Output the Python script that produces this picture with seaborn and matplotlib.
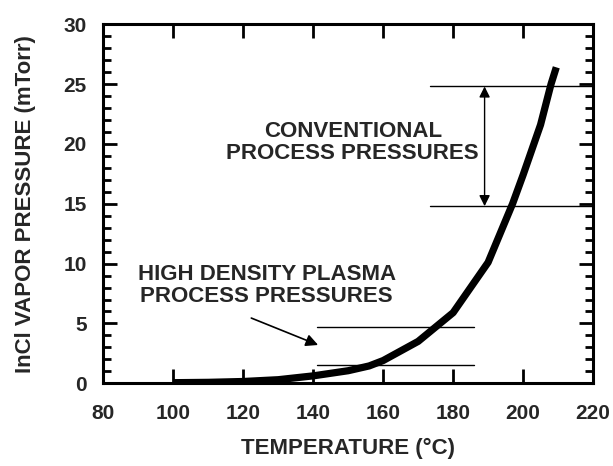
import numpy as np
import pandas as pd
import matplotlib
matplotlib.use('Agg')
import matplotlib.pyplot as plt
from matplotlib.ticker import MultipleLocator
import seaborn as sns

# data
temperature = [100, 110, 120, 130, 140, 150, 156, 160, 170, 180, 190, 197, 200, 205, 208, 209.5]
pressure    = [0.05, 0.08, 0.15, 0.3, 0.62, 1.05, 1.45, 1.9, 3.5, 5.9, 10.1, 15.0, 17.4, 21.6, 25.0, 26.4]

conv_levels = [24.8, 14.8]          # conventional process pressure band
conv_span   = [173.3, 220]
hdp_levels  = [4.7, 1.5]            # high density plasma band
hdp_span    = [141, 186]

x_ticks = [80, 100, 120, 140, 160, 180, 200, 220]
y_ticks = [0, 5, 10, 15, 20, 25, 30]

df = pd.DataFrame({'T': temperature, 'P': pressure})

sns.set_style('ticks')
plt.rcParams['font.family'] = ['Liberation Sans', 'DejaVu Sans']

fig, ax = plt.subplots(figsize=(6.13, 4.66), dpi=100)
fig.subplots_adjust(left=0.1686, right=0.9674, bottom=0.1775, top=0.948)

sns.lineplot(data=df, x='T', y='P', ax=ax, color='black', linewidth=5.2,
             solid_capstyle='butt', solid_joinstyle='round')

for lv in conv_levels:
    ax.plot(conv_span, [lv, lv], color='black', linewidth=1.0)
for lv in hdp_levels:
    ax.plot(hdp_span, [lv, lv], color='black', linewidth=1.0)

# double arrow between conventional levels
ax.annotate('', xy=(189, conv_levels[0]), xytext=(189, conv_levels[1]),
            arrowprops=dict(arrowstyle='<|-|>', color='black', lw=1.0,
                            mutation_scale=16, shrinkA=0, shrinkB=0))
ax.text(151.3, 20.1, 'CONVENTIONAL\nPROCESS PRESSURES', ha='center', va='center',
        fontsize=16, fontweight='bold', linespacing=1.05)

ax.text(126.7, 8.15, 'HIGH DENSITY PLASMA\nPROCESS PRESSURES', ha='center', va='center',
        fontsize=16, fontweight='bold', linespacing=1.05)
ax.annotate('', xy=(141.4, 3.2), xytext=(122.3, 5.45),
            arrowprops=dict(arrowstyle='-|>', color='black', lw=1.2,
                            mutation_scale=18, shrinkA=0, shrinkB=0))

ax.set_xlim(80, 220)
ax.set_ylim(0, 30)
ax.set_xticks(x_ticks)
ax.set_yticks(y_ticks)
ax.yaxis.set_minor_locator(MultipleLocator(1))
ax.tick_params(axis='both', which='major', direction='in', length=10, width=2,
               color='black', top=True, right=True, labelsize=15, pad=12)
ax.tick_params(axis='x', which='major', pad=15)
ax.tick_params(axis='y', which='minor', direction='in', length=5.5, width=2,
               color='black', left=True, right=True)
ax.tick_params(axis='x', which='minor', length=0)
for lbl in ax.get_xticklabels() + ax.get_yticklabels():
    lbl.set_fontweight('bold')
for s in ax.spines.values():
    s.set_linewidth(2.2)
    s.set_color('black')
    s.set_visible(True)

ax.set_xlabel('TEMPERATURE (°C)', fontsize=16, fontweight='bold', labelpad=11)
ax.set_ylabel('InCl VAPOR PRESSURE (mTorr)', fontsize=16, fontweight='bold', labelpad=20)

plt.savefig('out.png', dpi=100)
